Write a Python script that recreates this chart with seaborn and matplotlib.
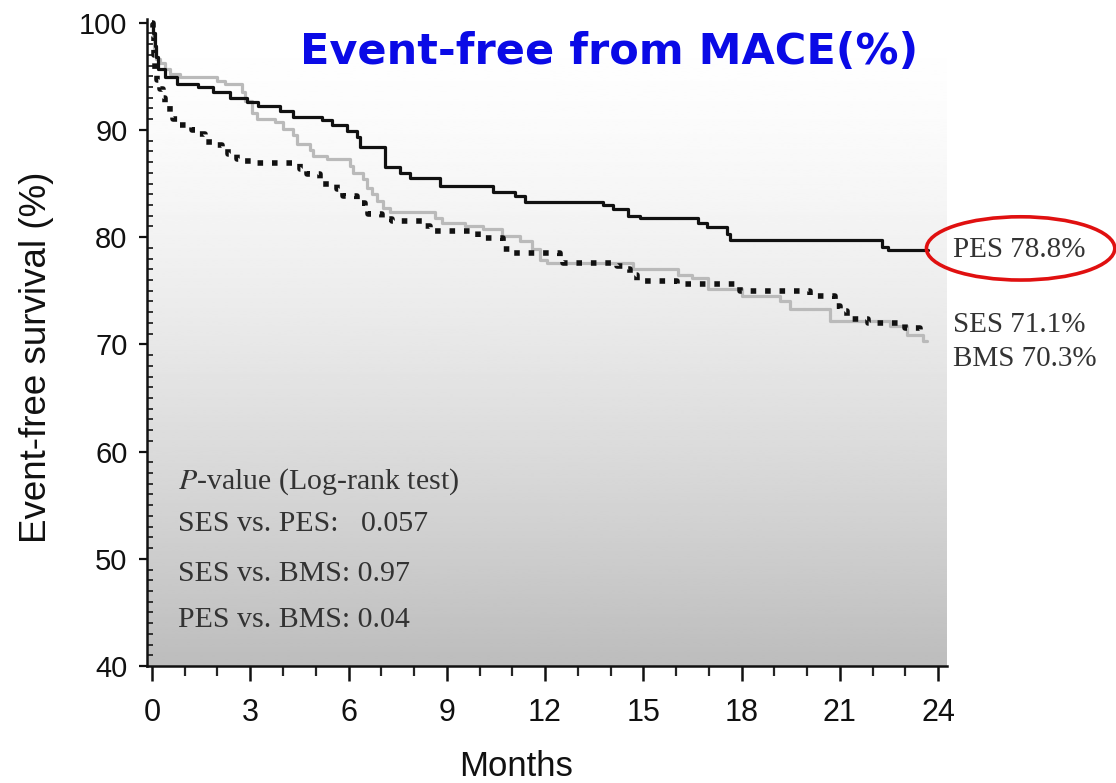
import numpy as np
import pandas as pd
import matplotlib
matplotlib.use("Agg")
import matplotlib.pyplot as plt
from matplotlib.patches import Ellipse
from matplotlib.ticker import MultipleLocator
import seaborn as sns

# Kaplan-Meier step values (month of step, survival % after the step)
pes_months = [0, 0.03, 0.08, 0.12, 0.18, 0.40, 0.76, 1.40, 1.86, 2.38, 2.90, 3.24, 3.91,
              4.31, 5.19, 5.50, 5.95, 6.26, 6.35, 7.11, 7.57, 7.88, 8.79, 10.41, 11.08,
              11.39, 13.77, 14.08, 14.53, 14.90, 16.67, 16.95, 17.56, 17.65, 22.29, 22.47, 23.70]
pes_surv = [100, 99.0, 97.8, 96.8, 95.7, 94.9, 94.3, 94.0, 93.5, 93.0, 92.6, 92.2, 91.8,
            91.2, 90.9, 90.5, 89.9, 89.3, 88.4, 86.5, 86.0, 85.5, 84.8, 84.2, 83.8,
            83.3, 83.0, 82.6, 82.0, 81.8, 81.3, 80.9, 80.3, 79.7, 79.1, 78.8, 78.8]

ses_months = [0, 0.02, 0.06, 0.10, 0.15, 0.24, 0.34, 0.40, 0.55, 0.64, 0.79, 1.22, 1.37,
              1.62, 1.86, 2.14, 2.32, 2.60, 2.69, 3.05, 4.52, 4.73, 5.13, 5.65, 5.83,
              6.26, 6.50, 6.60, 7.02, 7.33, 8.34, 8.49, 9.95, 10.72, 10.93, 12.46, 12.55,
              14.20, 14.44, 14.60, 14.81, 16.03, 17.95, 20.09, 20.85, 21.00, 21.22, 21.86,
              22.99, 23.45, 23.58]
ses_surv = [100, 98.8, 97.0, 95.7, 94.7, 93.8, 93.0, 92.4, 91.6, 91.0, 90.5, 90.0, 89.6,
            88.9, 88.6, 88.2, 87.8, 87.3, 87.1, 86.9, 86.4, 85.9, 85.0, 84.5, 83.8,
            83.2, 82.7, 82.2, 81.7, 81.5, 81.0, 80.6, 79.9, 78.9, 78.5, 78.0, 77.6,
            77.3, 77.0, 76.5, 75.9, 75.6, 75.0, 74.5, 73.6, 73.1, 72.4, 72.0,
            71.5, 71.1, 71.1]

bms_months = [0, 0.03, 0.06, 0.12, 0.25, 0.40, 0.55, 0.85, 1.98, 2.23, 2.75, 2.84, 3.05,
              3.21, 3.76, 4.00, 4.31, 4.43, 4.82, 4.92, 5.34, 6.05, 6.14, 6.44, 6.56,
              6.72, 6.87, 7.05, 7.27, 8.64, 8.85, 9.56, 10.11, 10.69, 11.24, 11.60, 11.85,
              12.06, 14.69, 16.06, 16.49, 16.98, 18.02, 19.18, 19.48, 20.70, 22.53, 23.05,
              23.54, 23.66]
bms_surv = [100, 98.5, 97.6, 96.6, 96.2, 95.7, 95.2, 94.9, 94.6, 94.3, 93.5, 92.7, 91.6,
            91.0, 90.7, 90.1, 89.5, 88.7, 88.1, 87.6, 87.3, 86.6, 86.0, 85.4, 84.6,
            84.0, 83.4, 82.7, 82.3, 81.8, 81.3, 81.0, 80.8, 80.1, 79.6, 78.9, 77.9,
            77.6, 77.0, 76.5, 76.2, 75.2, 74.5, 74.0, 73.3, 72.2, 71.7, 70.9,
            70.3, 70.3]

groups = ["PES", "SES", "BMS"]
final_rates = [78.8, 71.1, 70.3]
pvalue_lines = ["SES vs. PES:   0.057", "SES vs. BMS: 0.97", "PES vs. BMS: 0.04"]
x_ticks = [0, 3, 6, 9, 12, 15, 18, 21, 24]
y_ticks = [40, 50, 60, 70, 80, 90, 100]

df = pd.concat([
    pd.DataFrame({"Months": pes_months, "Survival": pes_surv, "Group": "PES"}),
    pd.DataFrame({"Months": ses_months, "Survival": ses_surv, "Group": "SES"}),
    pd.DataFrame({"Months": bms_months, "Survival": bms_surv, "Group": "BMS"}),
], ignore_index=True)

sns.set_style("ticks")
plt.rcParams["font.family"] = ["Liberation Sans", "DejaVu Sans"]
plt.rcParams["mathtext.fontset"] = "stix"

fig = plt.figure(figsize=(11.16, 7.83), dpi=100)
ax = fig.add_axes([0.1317, 0.1494, 0.7168, 0.8257])

xmin, xmax = -0.153, 24.27
ymin, ymax = 40, 100.3

# white-to-grey vertical shading behind the curves
t = np.linspace(0, 1, 256)[:, None]
shade = 1 - 0.26 * t ** 1.5
ax.imshow(shade, extent=[xmin, xmax, ymin, ymax], aspect="auto", cmap="gray",
          vmin=0, vmax=1, origin="upper", zorder=0, interpolation="bilinear")

styles = {
    "BMS": dict(color="#bababa", lw=2.3, ls="-"),
    "PES": dict(color="#111111", lw=2.3, ls="-"),
    "SES": dict(color="#111111", lw=4.0, ls=(0, (1, 1.6))),
}
for g in ["BMS", "PES", "SES"]:
    st = styles[g]
    sns.lineplot(data=df[df.Group == g], x="Months", y="Survival", ax=ax,
                 color=st["color"], linewidth=st["lw"], linestyle=st["ls"],
                 drawstyle="steps-post", estimator=None, sort=False, zorder=3)
for line in ax.get_lines():
    line.set_dash_capstyle("butt")

ax.set_xlim(xmin, xmax)
ax.set_ylim(ymin, ymax)

for side in ["top", "right"]:
    ax.spines[side].set_visible(False)
for side in ["left", "bottom"]:
    ax.spines[side].set_linewidth(1.8)
    ax.spines[side].set_color("#111111")

ax.set_xticks(x_ticks)
ax.xaxis.set_minor_locator(MultipleLocator(1))
ax.set_yticks(y_ticks)
ax.yaxis.set_minor_locator(MultipleLocator(1))
ax.tick_params(axis="x", which="major", direction="out", length=11, width=1.8,
               labelsize=22, pad=12, colors="#111111")
ax.tick_params(axis="x", which="minor", direction="out", length=7, width=1.6)
ax.tick_params(axis="y", which="major", direction="out", length=6, width=1.6,
               labelsize=21, pad=8, colors="#111111")
ax.tick_params(axis="y", which="minor", direction="in", length=4.5, width=1.3)
for lbl in ax.get_xticklabels():
    lbl.set_fontfamily(["Liberation Sans Narrow", "Liberation Sans"])

ax.set_xlabel("Months", fontsize=25, color="#111111",
              fontfamily=["Liberation Sans Narrow", "Liberation Sans"])
ax.set_ylabel("Event-free survival (%)", fontsize=26.5, color="#111111")
ax.xaxis.set_label_coords(0.461, -0.156)
ax.xaxis.label.set_va("center")
ax.yaxis.set_label_coords(-0.1375, 0.478)
ax.yaxis.label.set_va("center")

fig.text(0.5457, 0.934, "Event-free from MACE(%)", fontsize=31, fontweight="bold",
         color="#0a0ae6", ha="center", va="center", family="DejaVu Sans")

serif = ["Liberation Serif", "DejaVu Serif"]
ax.text(0.79, 57.2, r"$\it{P}$-value (Log-rank test)", fontsize=21.5, color="#333333",
        family=serif, ha="left", va="center")
for i, line in enumerate(pvalue_lines):
    ax.text(0.79, [53.2, 48.6, 44.3][i], line, fontsize=21.5, color="#333333",
            family=serif, ha="left", va="center")

label_y = [final_rates[0], 71.76, 68.68]
for g, rate, yy in zip(groups, final_rates, label_y):
    ax.text(24.46, yy, f"{g} {rate:.1f}%", fontsize=21, color="#333333",
            family=serif, ha="left", va="center", clip_on=False)

ax.add_patch(Ellipse((26.52, final_rates[0] + 0.15), 5.75, 5.9, fill=False,
                     edgecolor="#e01010", linewidth=2.6, clip_on=False, zorder=5))

fig.savefig("out.png", dpi=100)
